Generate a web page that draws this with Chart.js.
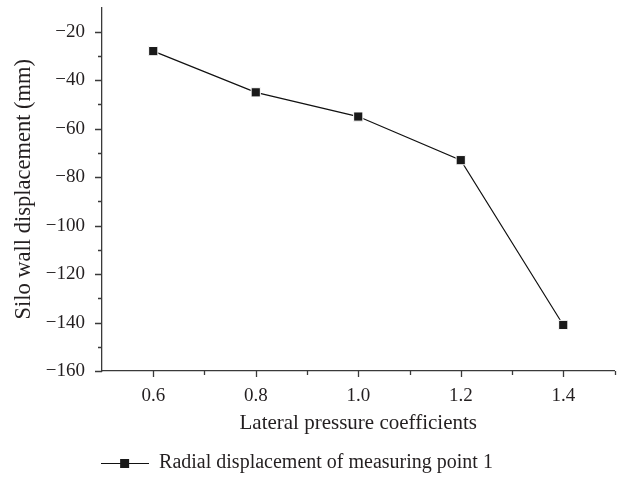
<!DOCTYPE html>
<html>
<head>
<meta charset="utf-8">
<script src="https://cdn.jsdelivr.net/npm/chart.js@4.4.1/dist/chart.umd.min.js"></script>
<style>
  html, body { margin: 0; background: #fff; }
  #wrap { width: 622px; height: 487px; }
</style>
</head>
<body>
<div id="wrap"><canvas id="chart"></canvas></div>
<script>
const coefficients = [0.6, 0.8, 1.0, 1.2, 1.4];
const displacement = [-28, -45, -55, -73, -141];
const xTickLabels = [0.6, 0.8, 1.0, 1.2, 1.4];
const yTickLabels = [-20, -40, -60, -80, -100, -120, -140, -160];
const seriesName = 'Radial displacement of measuring point 1';

const axisColor = '#3a3a3a';
const textColor = '#231f20';
const serif = "'Liberation Serif', 'Times New Roman', serif";

const isLabel = (list, v) => list.some(t => Math.abs(t - v) < 1e-6);

// legend symbol: short line with a square in the middle
const legendMark = document.createElement('canvas');
legendMark.width = 48;
legendMark.height = 12;
(function () {
  const g = legendMark.getContext('2d');
  g.strokeStyle = '#111';
  g.lineWidth = 1.2;
  g.beginPath();
  g.moveTo(0, 6.5);
  g.lineTo(48, 6.5);
  g.stroke();
  g.fillStyle = '#1a1a1a';
  g.fillRect(19, 2, 9, 9);
})();

// major / minor tick marks drawn outside the axes
const axisTicks = {
  id: 'axisTicks',
  afterDraw(chart) {
    const { ctx, chartArea, scales: { x, y } } = chart;
    ctx.save();
    ctx.strokeStyle = axisColor;
    ctx.lineWidth = 1.3;
    ctx.beginPath();
    x.ticks.forEach(t => {
      if (t.value <= x.min + 1e-6) return;
      const px = Math.round(x.getPixelForValue(t.value)) + 0.5;
      const len = isLabel(xTickLabels, t.value) ? 6 : 4;
      ctx.moveTo(px, chartArea.bottom);
      ctx.lineTo(px, chartArea.bottom + len);
    });
    y.ticks.forEach(t => {
      if (t.value >= y.max - 1e-6) return;
      const py = Math.round(y.getPixelForValue(t.value)) + 0.5;
      const len = isLabel(yTickLabels, t.value) ? 7 : 4;
      ctx.moveTo(chartArea.left, py);
      ctx.lineTo(chartArea.left - len, py);
    });
    ctx.stroke();
    ctx.restore();
  }
};

// legend sits a little left of centre in the original
const legendShift = {
  id: 'legendShift',
  afterLayout(chart) {
    chart.legend.left -= 11;
    chart.legend.right -= 11;
  }
};

new Chart(document.getElementById('chart'), {
  type: 'line',
  data: {
    datasets: [{
      label: seriesName,
      data: coefficients.map((c, i) => ({ x: c, y: displacement[i] })),
      borderColor: '#111',
      borderWidth: 1.2,
      pointStyle: 'rect',
      pointRadius: 6.5,
      pointBackgroundColor: '#1a1a1a',
      pointBorderColor: '#fff',
      pointBorderWidth: 1,
      fill: false,
      tension: 0
    }]
  },
  options: {
    responsive: true,
    maintainAspectRatio: false,
    animation: false,
    layout: { padding: { left: 0, right: 6, top: 7, bottom: 4 } },
    plugins: {
      tooltip: { enabled: false },
      legend: {
        position: 'bottom',
        labels: {
          usePointStyle: true,
          pointStyleWidth: 48,
          padding: 10,
          color: textColor,
          font: { family: serif, size: 20 },
          generateLabels: () => [{
            text: seriesName,
            pointStyle: legendMark,
            fillStyle: '#111',
            strokeStyle: '#111',
            lineWidth: 0,
            datasetIndex: 0,
            fontColor: textColor
          }]
        }
      }
    },
    scales: {
      x: {
        type: 'linear',
        min: 0.5,
        max: 1.5,
        grid: { display: false, drawTicks: false },
        border: { display: true, color: axisColor, width: 1.3 },
        afterFit(scale) {
          scale.height = 72;
          scale.paddingLeft = scale.paddingRight = 0;
        },
        ticks: {
          stepSize: 0.1,
          autoSkip: false,
          maxRotation: 0,
          padding: 14,
          color: textColor,
          font: { family: serif, size: 19 },
          callback: v => isLabel(xTickLabels, v) ? v.toFixed(1) : ''
        },
        title: {
          display: true,
          text: 'Lateral pressure coefficients',
          color: textColor,
          font: { family: serif, size: 21 },
          padding: { top: 4, bottom: 7 }
        }
      },
      y: {
        min: -160,
        max: -10,
        grid: { display: false, drawTicks: false },
        border: { display: true, color: axisColor, width: 1.3 },
        afterFit(scale) {
          scale.width = 102;
          scale.paddingTop = scale.paddingBottom = 0;
        },
        ticks: {
          stepSize: 10,
          autoSkip: false,
          padding: 17,
          color: textColor,
          font: { family: serif, size: 19 },
          callback: v => isLabel(yTickLabels, v) ? '\u2212' + Math.abs(v) : ''
        },
        title: {
          display: true,
          text: 'Silo wall displacement (mm)',
          color: textColor,
          font: { family: serif, size: 22.5 },
          padding: { top: 10.5, bottom: 0 }
        }
      }
    }
  },
  plugins: [axisTicks, legendShift]
});
</script>
</body>
</html>
